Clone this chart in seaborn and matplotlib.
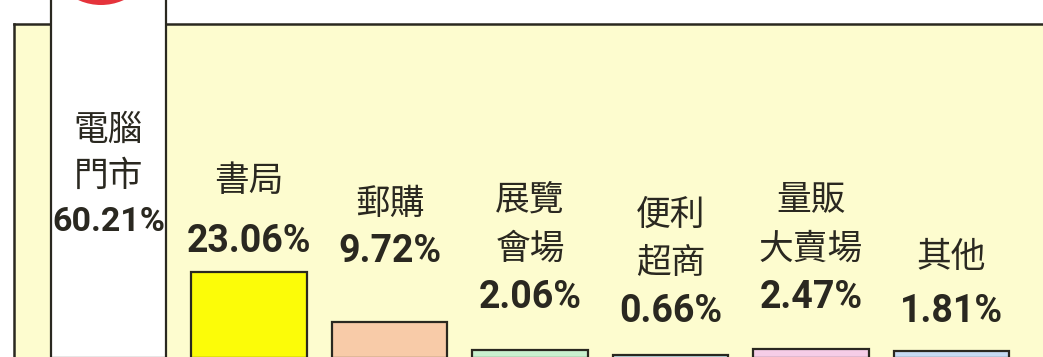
import numpy as np
import pandas as pd
import seaborn as sns
import matplotlib
matplotlib.use("Agg")
import matplotlib.pyplot as plt
from matplotlib import transforms
from matplotlib.patches import Ellipse

# ---- data ----
categories = ["電腦門市", "書局", "郵購", "展覽會場", "便利超商", "量販大賣場", "其他"]
name_lines = [["電腦", "門市"], ["書局"], ["郵購"], ["展覽", "會場"],
              ["便利", "超商"], ["量販", "大賣場"], ["其他"]]
shares = [60.21, 23.06, 9.72, 2.06, 0.66, 2.47, 1.81]
value_labels = ["60.21%", "23.06%", "9.72%", "2.06%", "0.66%", "2.47%", "1.81%"]

# ---- styling ----
bar_colors = ["#FFFFFF", "#FCFC08", "#F8CBA8", "#C9F0CF", "#CAEEF8", "#F6CDE7", "#C6DAF2"]
panel_color = "#FDFCCF"
ink = "#2A2820"
# centre of the value line for each label (pixels from the figure top)
value_line_px = [222, 241, 252, 298, 311, 298, 312]
line_gap_px = [46, 59, 47, 49, 48, 49, 54]
value_font_pt = [24.5, 27, 27, 27, 27, 27, 27]

W, H = 1043, 357
sns.set_theme(style="white")
plt.rcParams["font.family"] = ["Noto Sans CJK TC", "DejaVu Sans"]

fig = plt.figure(figsize=(W / 100, H / 100), dpi=100)
fig.patch.set_facecolor("white")

# panel: left edge at x=14, top edge at y=24, runs past the right and bottom edges
ax = fig.add_axes([14 / W, 0, (1070 - 14) / W, (H - 24) / H])
ax.set_facecolor(panel_color)

# piecewise-linear value scale: the leading share runs off the top of the panel
def fwd(v):
    v = np.asarray(v, dtype=float)
    return np.where(v <= 30, v, 30 + (v - 30) * 4)

def inv(u):
    u = np.asarray(u, dtype=float)
    return np.where(u <= 30, u, 30 + (u - 30) / 4)

df = pd.DataFrame({"cat": categories, "share": shares})
sns.barplot(data=df, x="cat", y="share", hue="cat", palette=bar_colors,
            legend=False, width=0.82, edgecolor=ink, linewidth=1.6,
            saturation=1, ax=ax)
ax.set_yscale("function", functions=(fwd, inv))

px_per_unit = 3.73
top_lin = 0.25 + (H - 24) / px_per_unit
ax.set_ylim(0.25, float(inv(top_lin)))
x_left = (14 - 108.5) / 140.5
x_right = (1070 - 108.5) / 140.5
ax.set_xlim(x_left, x_right)

for i, p in enumerate(ax.patches):
    p.set_zorder(3)
    if i == 0:
        p.set_clip_on(False)

ax.set_xticks([])
ax.set_yticks([])
ax.set_xlabel("")
ax.set_ylabel("")
for side in ["left", "top"]:
    ax.spines[side].set_visible(True)
    ax.spines[side].set_color(ink)
    ax.spines[side].set_linewidth(1.8)
for side in ["right", "bottom"]:
    ax.spines[side].set_visible(False)

# red badge peeking in above the leading column
fig.add_artist(Ellipse((101 / W, 1 + 50 / H), width=110 / W, height=110 / H,
                       transform=fig.transFigure, facecolor="#E5333B",
                       edgecolor="none", zorder=5))

# labels above the bars
trans = transforms.blended_transform_factory(ax.transData, fig.transFigure)
for i in range(len(categories)):
    vy = value_line_px[i]
    ax.text(i, 1 - vy / H, value_labels[i], transform=trans, ha="center",
            va="center", fontsize=value_font_pt[i], fontweight="bold", color=ink,
            family=["Roboto", "DejaVu Sans"], zorder=6)
    lines = name_lines[i]
    for k, line in enumerate(reversed(lines)):
        ly = vy - line_gap_px[i] * (k + 1)
        ax.text(i, 1 - ly / H, line, transform=trans, ha="center",
                va="center", fontsize=25, fontweight=500, color=ink,
                family=["Noto Sans CJK TC", "DejaVu Sans"], zorder=6)

fig.savefig("out.png", dpi=100)
